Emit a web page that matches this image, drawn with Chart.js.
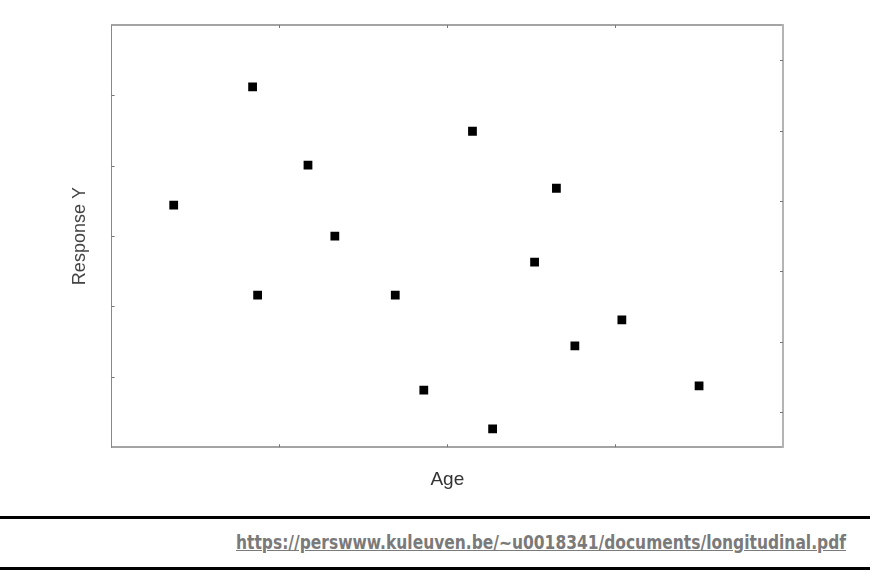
<!DOCTYPE html>
<html>
<head>
<meta charset="utf-8">
<script src="https://cdn.jsdelivr.net/npm/chart.js@4/dist/chart.umd.min.js"></script>
<style>
  body { margin: 0; background: #fff; width: 870px; height: 571px; overflow: hidden; position: relative; }
  #wrap { position: absolute; left: 0; top: 0; width: 870px; height: 510px; }
  .rule { position: absolute; left: 0; width: 870px; height: 3px; background: #000; }
  #url { position: absolute; left: 236px; top: 533px; font-family: "DejaVu Sans", sans-serif; font-weight: 700;
         font-size: 19px; color: #7a7a7a; text-decoration: underline; white-space: nowrap; line-height: 1;
         transform-origin: 0 0; }
</style>
</head>
<body>
<div id="wrap"><canvas id="scatter" width="870" height="510"></canvas></div>
<div class="rule" style="top:516px"></div>
<div id="url">https://perswww.kuleuven.be/~u0018341/documents/longitudinal.pdf</div>
<div class="rule" style="top:567px"></div>
<script>
// values (arbitrary units, no tick labels in the original)
const ageValues = [3.7, 8.4, 8.7, 11.7, 13.3, 16.9, 18.6, 21.5, 22.7, 25.2, 26.5, 27.6, 30.4, 35.0];
const responseValues = [34.4, 51.2, 21.6, 40.1, 30.0, 21.6, 8.1, 44.9, 2.6, 26.3, 36.8, 14.4, 18.1, 8.7];

// tick positions (marks only, no labels)
const xTicks = [10, 20, 30];
const yLeftTicks = [10, 20, 30, 40, 50];
const yRightTicks = [5, 15, 25, 35, 45, 55];

const points = ageValues.map((x, i) => ({ x: x, y: responseValues[i] }));

// small inward tick marks on all four sides
const innerTicks = {
  id: 'innerTicks',
  afterDraw(chart) {
    const ctx = chart.ctx;
    const a = chart.chartArea;
    const len = 3;
    ctx.save();
    ctx.strokeStyle = '#777';
    ctx.lineWidth = 1;
    ctx.beginPath();
    xTicks.forEach(v => {
      const px = Math.round(chart.scales.x.getPixelForValue(v)) + 0.5;
      ctx.moveTo(px, a.bottom); ctx.lineTo(px, a.bottom - len);
      ctx.moveTo(px, a.top); ctx.lineTo(px, a.top + len);
    });
    yLeftTicks.forEach(v => {
      const py = Math.round(chart.scales.y.getPixelForValue(v)) + 0.5;
      ctx.moveTo(a.left, py); ctx.lineTo(a.left + len, py);
    });
    yRightTicks.forEach(v => {
      const py = Math.round(chart.scales.y2.getPixelForValue(v)) + 0.5;
      ctx.moveTo(a.right, py); ctx.lineTo(a.right - len, py);
    });
    ctx.stroke();
    ctx.restore();
  }
};

const noMarks = { display: true, drawOnChartArea: false, drawTicks: false };

new Chart(document.getElementById('scatter'), {
  type: 'scatter',
  data: {
    datasets: [{
      data: points,
      pointStyle: 'rect',
      pointRadius: 6.2,
      pointHoverRadius: 6.2,
      backgroundColor: '#000',
      borderWidth: 0
    }]
  },
  options: {
    responsive: false,
    animation: false,
    layout: { padding: { left: 63, top: 25, right: 87, bottom: 15 } },
    plugins: { legend: { display: false }, tooltip: { enabled: false } },
    scales: {
      x: {
        type: 'linear', position: 'bottom', min: 0, max: 40,
        ticks: { display: false },
        grid: noMarks,
        border: { color: '#a4a4a4', width: 2 },
        title: { display: true, text: 'Age', color: '#333',
                 font: { family: 'Liberation Sans, Arial, sans-serif', size: 19 },
                 padding: { top: 21, bottom: 4 } }
      },
      x2: {
        type: 'linear', position: 'top', min: 0, max: 40,
        ticks: { display: false },
        grid: noMarks,
        border: { color: '#a4a4a4', width: 2 }
      },
      y: {
        type: 'linear', position: 'left', min: 0, max: 60,
        ticks: { display: false },
        grid: noMarks,
        border: { color: '#888', width: 1 },
        title: { display: true, text: 'Response Y', color: '#444',
                 font: { family: 'Liberation Sans, Arial, sans-serif', size: 18 },
                 padding: { top: 6, bottom: 21 } }
      },
      y2: {
        type: 'linear', position: 'right', min: 0, max: 60,
        ticks: { display: false },
        grid: noMarks,
        border: { color: '#b4b4b4', width: 2 }
      }
    }
  },
  plugins: [innerTicks]
});

// stretch the source line to the width it has in the picture
const url = document.getElementById('url');
const w = url.getBoundingClientRect().width;
url.style.transform = 'scaleX(' + (610 / w).toFixed(4) + ')';
</script>
</body>
</html>
